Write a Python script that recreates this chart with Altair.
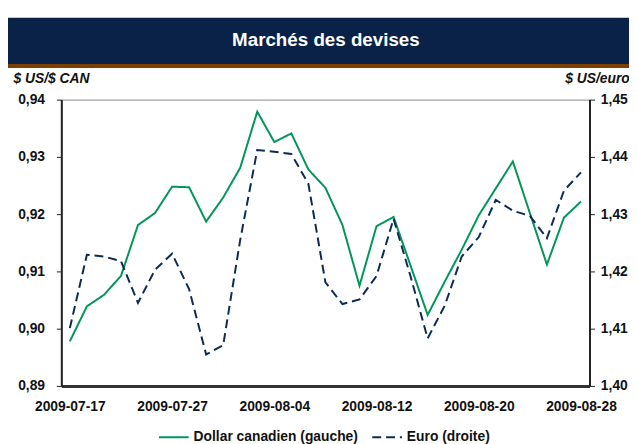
import altair as alt
import pandas as pd

dates = ["2009-07-17","2009-07-20","2009-07-21","2009-07-22","2009-07-23","2009-07-24",
         "2009-07-27","2009-07-28","2009-07-29","2009-07-30","2009-07-31","2009-08-03",
         "2009-08-04","2009-08-05","2009-08-06","2009-08-07","2009-08-10","2009-08-11",
         "2009-08-12","2009-08-13","2009-08-14","2009-08-17","2009-08-18","2009-08-19",
         "2009-08-20","2009-08-21","2009-08-24","2009-08-25","2009-08-26","2009-08-27",
         "2009-08-28"]
cad = [0.8978, 0.9039, 0.9059, 0.9092, 0.9181, 0.9202, 0.9248, 0.9247, 0.9187, 0.9229,
       0.9281, 0.9379, 0.9326, 0.9341, 0.9278, 0.9246, 0.9181, 0.9075, 0.9179, 0.9195,
       0.9110, 0.9024, 0.9082, 0.9138, 0.9198, 0.9245, 0.9292, 0.9202, 0.9112, 0.9194,
       0.9222]
eur = [1.4101, 1.4229, 1.4226, 1.4218, 1.4145, 1.4203, 1.4231, 1.4169, 1.4055, 1.4071,
       1.4255, 1.4412, 1.4409, 1.4405, 1.4353, 1.4181, 1.4143, 1.4151, 1.4192, 1.4292,
       1.4191, 1.4083, 1.4140, 1.4226, 1.4260, 1.4325, 1.4306, 1.4297, 1.4258, 1.4341,
       1.4373]
series_names = ["Dollar canadien (gauche)", "Euro (droite)"]
x_ticks = ["2009-07-17", "2009-07-27", "2009-08-04", "2009-08-12", "2009-08-20", "2009-08-28"]
left_ticks = [0.89, 0.90, 0.91, 0.92, 0.93, 0.94]
right_ticks = [1.40, 1.41, 1.42, 1.43, 1.44, 1.45]
title_text = "Marchés des devises"

GREEN = "#00965a"
NAVY = "#0b2a55"
FONT = "Liberation Sans"

df = pd.DataFrame({
    "date": dates * 2,
    "value": cad + eur,
    "series": [series_names[0]] * len(dates) + [series_names[1]] * len(dates),
})

W, H = 535, 290

legend_cfg = dict(title=None, orient="none", direction="horizontal",
                  legendX=98, legendY=326, symbolType="stroke",
                  symbolSize=900, symbolStrokeWidth=2, labelLimit=400,
                  labelFont=FONT, labelFontSize=14, labelFontWeight="bold",
                  labelColor="#111", labelOffset=4, columnPadding=10)

color = alt.Color("series:N",
                  scale=alt.Scale(domain=series_names, range=[GREEN, NAVY]),
                  legend=alt.Legend(**legend_cfg))
dash = alt.StrokeDash("series:N",
                      scale=alt.Scale(domain=series_names, range=[[1, 0], [9, 5]]),
                      legend=alt.Legend(**legend_cfg))

x_enc = alt.X("date:O", scale=alt.Scale(type="point", padding=0.5),
              axis=alt.Axis(title=None, values=x_ticks, labelAngle=0, ticks=False,
                            domainColor="#333", domainWidth=3, labelFont=FONT,
                            labelFontSize=14, labelFontWeight="bold", labelColor="#111",
                            labelPadding=14))

lab_expr = "replace(format(datum.value, '.2f'), '.', ',')"

left = alt.Chart(df).transform_filter(
    alt.datum.series == series_names[0]
).mark_line(strokeWidth=2).encode(
    x=x_enc,
    y=alt.Y("value:Q", scale=alt.Scale(domain=[0.89, 0.94], nice=False, zero=False),
            axis=alt.Axis(orient="left", values=left_ticks, labelExpr=lab_expr, grid=False,
                          domainColor="#222", domainWidth=2, tickColor="#222", tickSize=5,
                          tickWidth=1, labelFont=FONT, labelFontSize=14, labelFontWeight="bold",
                          labelColor="#111", labelPadding=12,
                          title="$ US/$ CAN", titleAngle=0, titleAlign="left",
                          titleBaseline="alphabetic", titleX=-49, titleY=-17,
                          titleFont=FONT, titleFontSize=14, titleFontStyle="italic",
                          titleFontWeight="bold", titleColor="#111")),
    color=color,
    strokeDash=dash,
)

right = alt.Chart(df).transform_filter(
    alt.datum.series == series_names[1]
).mark_line(strokeWidth=2).encode(
    x=x_enc,
    y=alt.Y("value:Q", scale=alt.Scale(domain=[1.40, 1.45], nice=False, zero=False),
            axis=alt.Axis(orient="right", values=right_ticks, labelExpr=lab_expr, grid=False,
                          domainColor="#222", domainWidth=2, tickColor="#222", tickSize=5,
                          tickWidth=1, labelFont=FONT, labelFontSize=14, labelFontWeight="bold",
                          labelColor="#111", labelPadding=6,
                          title="$ US/euro", titleAngle=0, titleAlign="left",
                          titleBaseline="alphabetic", titleX=-25, titleY=-17,
                          titleFont=FONT, titleFontSize=14, titleFontStyle="italic",
                          titleFontWeight="bold", titleColor="#111")),
    color=color,
    strokeDash=dash,
)

deco = alt.Data(values=[{"t": title_text}])
banner = alt.Chart(deco).mark_rect(color="#0a2248").encode(
    x=alt.value(-54), x2=alt.value(575), y=alt.value(-83), y2=alt.value(-36))
stripe = alt.Chart(deco).mark_rect(color="#7b3f00").encode(
    x=alt.value(-54), x2=alt.value(575), y=alt.value(-36), y2=alt.value(-32))
title = alt.Chart(deco).mark_text(font=FONT, fontSize=19, fontWeight="bold", color="white",
                                  baseline="middle", align="center").encode(
    x=alt.value(268), y=alt.value(-60), text="t:N")

chart = alt.layer(banner, stripe, title, left, right).resolve_scale(
    y="independent"
).properties(
    width=W, height=H,
    autosize=alt.AutoSizeParams(type="none"),
    padding={"left": 54, "top": 90, "right": 40, "bottom": 56},
).configure_view(stroke="#888", strokeWidth=1)

chart.save("out.html", embed_options={"renderer": "svg", "actions": False})
